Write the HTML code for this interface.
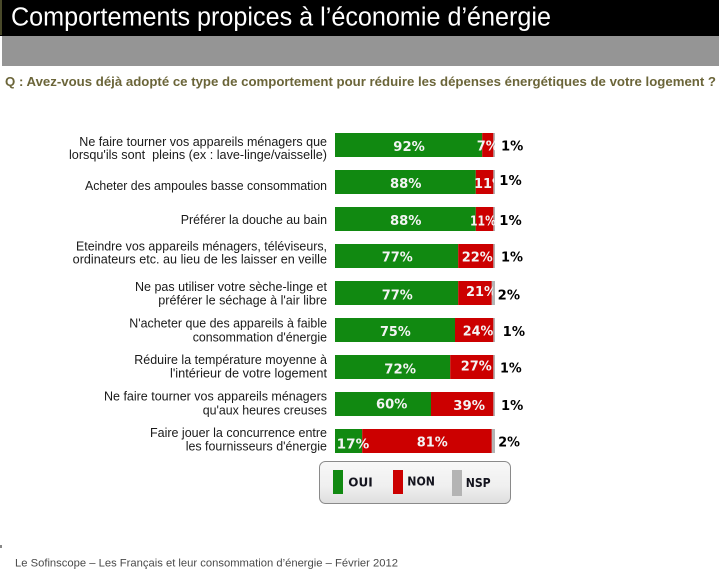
<!DOCTYPE html>
<html>
<head>
<meta charset="utf-8">
<style>
  html,body{margin:0;padding:0;background:#fff;}
  svg{display:block;}
  .lbl{font-family:"Liberation Sans","DejaVu Sans",sans-serif;font-size:12.5px;fill:#1a1a1a;white-space:pre;}
  .pin{font-family:"DejaVu Sans","Liberation Sans",sans-serif;font-weight:bold;font-size:13px;fill:#f4f4f4;}
  .pout{font-family:"DejaVu Sans","Liberation Sans",sans-serif;font-weight:bold;font-size:13px;fill:#000;}
  .leg{font-family:"DejaVu Sans","Liberation Sans",sans-serif;font-weight:bold;font-size:12px;fill:#14141e;}
</style>
</head>
<body>
<svg width="719" height="571" viewBox="0 0 719 571" xmlns="http://www.w3.org/2000/svg">
  <defs>
    <linearGradient id="lg" x1="0" y1="0" x2="0" y2="1">
      <stop offset="0" stop-color="#f8f8f8"/>
      <stop offset="0.6" stop-color="#efefef"/>
      <stop offset="1" stop-color="#dedede"/>
    </linearGradient>
    <clipPath id="c1"><rect x="330" y="120" width="165" height="40"/></clipPath>
    <clipPath id="c2"><rect x="330" y="160" width="164" height="40"/></clipPath>
    <clipPath id="c5"><rect x="330" y="275" width="162.8" height="40"/></clipPath>
  </defs>

  <!-- header -->
  <rect x="0" y="0" width="719" height="36" fill="#000"/>
  <rect x="0" y="0" width="2" height="35" fill="#4a4a2a"/>
  <rect x="2" y="36" width="717" height="30" fill="#959595"/>
  <text x="11" y="25.5" font-family="Liberation Sans, Arial, sans-serif" font-size="25.5" fill="#fff" textLength="540" lengthAdjust="spacingAndGlyphs">Comportements propices à l’économie d’énergie</text>

  <!-- question -->
  <text x="5" y="86" font-family="Liberation Sans, Arial, sans-serif" font-weight="bold" font-size="12.5" fill="#6b6539" textLength="711" lengthAdjust="spacingAndGlyphs">Q : Avez-vous déjà adopté ce type de comportement pour réduire les dépenses énergétiques de votre logement ?</text>

  <!-- labels -->
  <text class="lbl" x="79.3" y="146" textLength="247.7" lengthAdjust="spacingAndGlyphs">Ne faire tourner vos appareils ménagers que</text>
  <text class="lbl" x="69" y="159" textLength="258" lengthAdjust="spacingAndGlyphs">lorsqu'ils sont  pleins (ex : lave-linge/vaisselle)</text>
  <text class="lbl" x="85" y="190" textLength="242" lengthAdjust="spacingAndGlyphs">Acheter des ampoules basse consommation</text>
  <text class="lbl" x="180.7" y="224" textLength="146.3" lengthAdjust="spacingAndGlyphs">Préférer la douche au bain</text>
  <text class="lbl" x="76" y="250.5" textLength="251" lengthAdjust="spacingAndGlyphs">Eteindre vos appareils ménagers, téléviseurs,</text>
  <text class="lbl" x="72.7" y="263.5" textLength="254.3" lengthAdjust="spacingAndGlyphs">ordinateurs etc. au lieu de les laisser en veille</text>
  <text class="lbl" x="135" y="291" textLength="192" lengthAdjust="spacingAndGlyphs">Ne pas utiliser votre sèche-linge et</text>
  <text class="lbl" x="158.3" y="304.5" textLength="168.7" lengthAdjust="spacingAndGlyphs">préférer le séchage à l'air libre</text>
  <text class="lbl" x="129.3" y="327.5" textLength="197.7" lengthAdjust="spacingAndGlyphs">N'acheter que des appareils à faible</text>
  <text class="lbl" x="192.7" y="341.5" textLength="134.3" lengthAdjust="spacingAndGlyphs">consommation d'énergie</text>
  <text class="lbl" x="134.3" y="364" textLength="192.7" lengthAdjust="spacingAndGlyphs">Réduire la température moyenne à</text>
  <text class="lbl" x="170" y="377.5" textLength="157" lengthAdjust="spacingAndGlyphs">l'intérieur de votre logement</text>
  <text class="lbl" x="104" y="400.5" textLength="223" lengthAdjust="spacingAndGlyphs">Ne faire tourner vos appareils ménagers</text>
  <text class="lbl" x="202.7" y="414.5" textLength="124.3" lengthAdjust="spacingAndGlyphs">qu'aux heures creuses</text>
  <text class="lbl" x="150" y="437" textLength="177" lengthAdjust="spacingAndGlyphs">Faire jouer la concurrence entre</text>
  <text class="lbl" x="185.7" y="450.5" textLength="141.3" lengthAdjust="spacingAndGlyphs">les fournisseurs d'énergie</text>

  <!-- bars -->
  <rect x="335" y="133" width="147.2" height="24" fill="#118911"/>
  <rect x="482.2" y="133" width="11.2" height="24" fill="#cc0000"/>
  <rect x="493.4" y="133" width="1.6" height="24" fill="#b4b4b4"/>
  <rect x="335" y="170" width="140.8" height="24" fill="#118911"/>
  <rect x="475.8" y="170" width="17.6" height="24" fill="#cc0000"/>
  <rect x="493.4" y="170" width="1.6" height="24" fill="#b4b4b4"/>
  <rect x="335" y="207" width="140.8" height="24" fill="#118911"/>
  <rect x="475.8" y="207" width="17.6" height="24" fill="#cc0000"/>
  <rect x="493.4" y="207" width="1.6" height="24" fill="#b4b4b4"/>
  <rect x="335" y="244" width="123.2" height="24" fill="#118911"/>
  <rect x="458.2" y="244" width="35.2" height="24" fill="#cc0000"/>
  <rect x="493.4" y="244" width="1.6" height="24" fill="#b4b4b4"/>
  <rect x="335" y="281" width="123.2" height="24" fill="#118911"/>
  <rect x="458.2" y="281" width="33.6" height="24" fill="#cc0000"/>
  <rect x="491.8" y="281" width="3.2" height="24" fill="#b4b4b4"/>
  <rect x="335" y="318" width="120" height="24" fill="#118911"/>
  <rect x="455" y="318" width="38.4" height="24" fill="#cc0000"/>
  <rect x="493.4" y="318" width="1.6" height="24" fill="#b4b4b4"/>
  <rect x="335" y="355" width="115.2" height="24" fill="#118911"/>
  <rect x="450.2" y="355" width="43.2" height="24" fill="#cc0000"/>
  <rect x="493.4" y="355" width="1.6" height="24" fill="#b4b4b4"/>
  <rect x="335" y="392" width="96" height="24" fill="#118911"/>
  <rect x="431" y="392" width="62.4" height="24" fill="#cc0000"/>
  <rect x="493.4" y="392" width="1.6" height="24" fill="#b4b4b4"/>
  <rect x="335" y="429" width="27.2" height="24" fill="#118911"/>
  <rect x="362.2" y="429" width="129.6" height="24" fill="#cc0000"/>
  <rect x="491.8" y="429" width="3.2" height="24" fill="#b4b4b4"/>

  <!-- in-bar values -->
  <text class="pin" x="393.3" y="151" textLength="31.5" lengthAdjust="spacingAndGlyphs">92%</text>
  <g clip-path="url(#c1)"><text class="pin" x="476.7" y="150.5" textLength="22" lengthAdjust="spacingAndGlyphs">7%</text></g>
  <text class="pin" x="390" y="188" textLength="31.5" lengthAdjust="spacingAndGlyphs">88%</text>
  <g clip-path="url(#c2)"><text class="pin" x="474" y="188" textLength="31" lengthAdjust="spacingAndGlyphs">11%</text></g>
  <text class="pin" x="390" y="225" textLength="31.5" lengthAdjust="spacingAndGlyphs">88%</text>
  <text class="pin" x="470" y="225.5" textLength="26" lengthAdjust="spacingAndGlyphs">11%</text>
  <text class="pin" x="381.7" y="261.7" textLength="31" lengthAdjust="spacingAndGlyphs">77%</text>
  <text class="pin" x="461.7" y="261.7" textLength="31" lengthAdjust="spacingAndGlyphs">22%</text>
  <text class="pin" x="381.7" y="299.5" textLength="31" lengthAdjust="spacingAndGlyphs">77%</text>
  <g clip-path="url(#c5)"><text class="pin" x="466" y="296" textLength="31" lengthAdjust="spacingAndGlyphs">21%</text></g>
  <text class="pin" x="380" y="336" textLength="30.7" lengthAdjust="spacingAndGlyphs">75%</text>
  <text class="pin" x="462.7" y="335.3" textLength="30.6" lengthAdjust="spacingAndGlyphs">24%</text>
  <text class="pin" x="384.3" y="373.3" textLength="31.7" lengthAdjust="spacingAndGlyphs">72%</text>
  <text class="pin" x="460.7" y="370.7" textLength="31" lengthAdjust="spacingAndGlyphs">27%</text>
  <text class="pin" x="376" y="408.3" textLength="31.3" lengthAdjust="spacingAndGlyphs">60%</text>
  <text class="pin" x="453.3" y="410" textLength="31.7" lengthAdjust="spacingAndGlyphs">39%</text>
  <text class="pin" x="336.7" y="448.3" textLength="32.6" lengthAdjust="spacingAndGlyphs">17%</text>
  <text class="pin" x="416.7" y="446.7" textLength="31" lengthAdjust="spacingAndGlyphs">81%</text>

  <!-- NSP values -->
  <text class="pout" x="501" y="150.7" textLength="22.3" lengthAdjust="spacingAndGlyphs">1%</text>
  <text class="pout" x="499.3" y="185" textLength="22.4" lengthAdjust="spacingAndGlyphs">1%</text>
  <text class="pout" x="499.3" y="225" textLength="22.4" lengthAdjust="spacingAndGlyphs">1%</text>
  <text class="pout" x="501" y="261.7" textLength="22" lengthAdjust="spacingAndGlyphs">1%</text>
  <text class="pout" x="497.7" y="299.3" textLength="22.3" lengthAdjust="spacingAndGlyphs">2%</text>
  <text class="pout" x="502.7" y="336" textLength="22.3" lengthAdjust="spacingAndGlyphs">1%</text>
  <text class="pout" x="500" y="372.7" textLength="21.7" lengthAdjust="spacingAndGlyphs">1%</text>
  <text class="pout" x="501" y="410" textLength="22.3" lengthAdjust="spacingAndGlyphs">1%</text>
  <text class="pout" x="498.3" y="446.7" textLength="21.7" lengthAdjust="spacingAndGlyphs">2%</text>

  <!-- legend -->
  <rect x="319.5" y="461.5" width="191" height="42" rx="6" ry="6" fill="url(#lg)" stroke="#8a8a8a" stroke-width="1"/>
  <rect x="333" y="470" width="10" height="24" fill="#118911"/>
  <text class="leg" x="348.3" y="486.5" textLength="24.4" lengthAdjust="spacingAndGlyphs">OUI</text>
  <rect x="393" y="470" width="10" height="24" fill="#cc0000"/>
  <text class="leg" x="407.3" y="485.5" textLength="27.7" lengthAdjust="spacingAndGlyphs">NON</text>
  <rect x="452" y="470" width="10" height="26" fill="#b4b4b4"/>
  <text class="leg" x="465.7" y="487" textLength="25" lengthAdjust="spacingAndGlyphs">NSP</text>

  <!-- footer -->
  <rect x="0" y="545" width="2" height="3" fill="#888"/>
  <text x="15" y="566.5" font-family="Liberation Sans, DejaVu Sans, sans-serif" font-size="11" fill="#4a4a4a" textLength="383" lengthAdjust="spacingAndGlyphs">Le Sofinscope – Les Français et leur consommation d’énergie – Février 2012</text>
</svg>
</body>
</html>
